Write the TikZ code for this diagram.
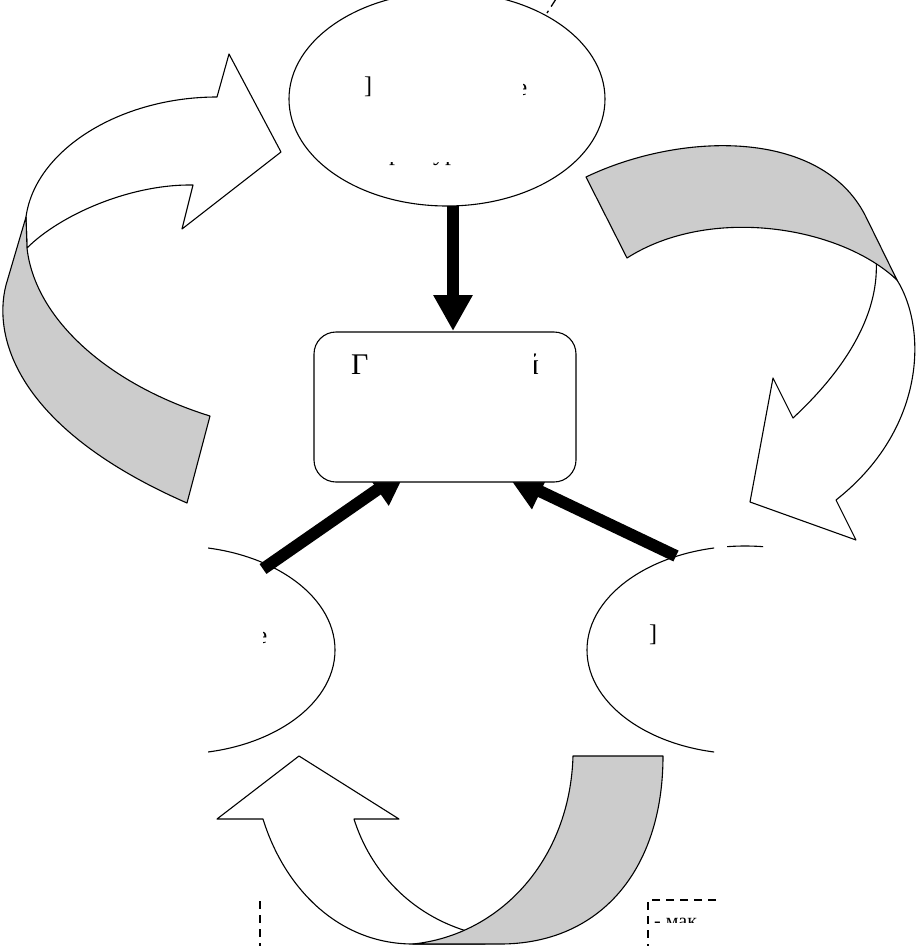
\documentclass[tikz,border=0pt]{standalone}
\usepackage{fontspec}
\setmainfont{Liberation Serif}
\usetikzlibrary{shapes.geometric,arrows.meta}
\definecolor{ribbongray}{RGB}{204,204,204}
\begin{document}
\begin{tikzpicture}[x=1pt,y=-1pt,
  outl/.style={draw=black,line width=1.1pt,line join=round},
  ribbon/.style={outl,fill=ribbongray},
  face/.style={outl,fill=white},
  bigarrow/.style={line width=12pt,-{Triangle[width=37pt,length=36pt]}},
  oval/.style={ellipse,draw=black,line width=1.1pt,minimum width=316pt,minimum height=208pt,inner sep=0pt},
  frag/.style={inner sep=0pt,font=\fontsize{24}{26}\selectfont},
  bigfrag/.style={inner sep=0pt,font=\fontsize{30}{32}\selectfont},
  smallfrag/.style={inner sep=0pt,font=\fontsize{20}{22}\selectfont},
  dashedline/.style={line width=1.8pt,dash pattern=on 8pt off 6pt}]
\useasboundingbox (0,0) rectangle (919,946);
\clip (0,0) rectangle (919,946);

% ---- curved block arrows ----
% left
\path[face] (193,185) -- (182,229) -- (281,152) -- (229,54) -- (217,97)
  .. controls (120,97) and (35,150) .. (26,217) -- (27,248)
  .. controls (60,215) and (130,184) .. cycle;
\path[ribbon] (26,217) -- (27,248) .. controls (35,320) and (110,385) .. (210,416)
  -- (187,503) .. controls (20,430) and (-8,340) .. (6,285) -- cycle;
% right
\path[face] (897,280) .. controls (928,330) and (925,430) .. (836,500)
  -- (856,540) -- (750,502) -- (773,378) -- (793,418)
  .. controls (850,365) and (880,310) .. (876,258) -- cycle;
\path[ribbon] (586,177) .. controls (680,132) and (820,128) .. (865,215) -- (897,280)
  .. controls (840,226) and (710,205) .. (627,258) -- cycle;
% bottom
\path[face] (263,819) .. controls (285,890) and (340,944) .. (413,944) -- (485,944) -- (470,932)
  .. controls (410,915) and (370,870) .. (354,819) -- (399,819) -- (299,756) -- (217,819) -- cycle;
\path[ribbon] (573,756) -- (663,756) .. controls (663,870) and (600,944) .. (500,944) -- (413,944)
  .. controls (500,935) and (570,860) .. cycle;

% ---- ellipses ----
\node[oval,minimum height=214pt] (top) at (447,99) {};
\begin{scope}
  \clip (208,0) rectangle (919,946);
  \node[oval] (left) at (177,650) {};
\end{scope}
\begin{scope}
  \clip (0,0) rectangle (714,946) (727,538) rectangle (763,556);
  \node[oval] (right) at (745,650) {};
\end{scope}

% ---- thick arrows ----
\coordinate (a1s) at (453,206); \coordinate (a1e) at (453,331);
\coordinate (a2s) at (263,569); \coordinate (a2e) at (407,469);
\coordinate (a3s) at (676,556); \coordinate (a3e) at (508,476);
\draw[bigarrow] (a1s) -- (a1e);
\draw[bigarrow] (a2s) -- (a2e);
\draw[bigarrow] (a3s) -- (a3e);

% ---- central box ----
\node[draw=black,line width=1.1pt,fill=white,rounded corners=22pt,minimum width=262pt,minimum height=150pt] (box) at (445,407) {};

% ---- text fragments ----
\node[frag,anchor=base] (t1) at (368,93) {]};
\begin{scope}
  \clip (523,70) rectangle (540,100);
  \node[frag,anchor=base] (t2) at (522,95) {е};
\end{scope}
\begin{scope}
  \clip (380,162) rectangle (470,175);
  \node[frag,anchor=base] (t3) at (395,160) {р};
  \node[frag,anchor=base] (t4) at (445,160) {ур};
\end{scope}
\node[bigfrag,anchor=base west] (t5) at (351,374) {Г};
\begin{scope}
  \clip (534,345) rectangle (550,380);
  \node[bigfrag,anchor=base] (t6) at (531,374) {й};
\end{scope}
\begin{scope}
  \clip (263,620) rectangle (280,650);
  \node[frag,anchor=base] (t7) at (262,643) {е};
\end{scope}
\node[frag,anchor=base] (t8) at (653,641) {]};
\begin{scope}
  \clip (650,900) rectangle (716,922);
  \node[smallfrag,anchor=base west] (t9) at (654,927) {- мак};
\end{scope}

% ---- dashed fragments ----
\coordinate (d1a) at (260,901); \coordinate (d1b) at (260,946);
\draw[dashedline] (d1a) -- (d1b);
\coordinate (d2a) at (716,900); \coordinate (d2b) at (648,900); \coordinate (d2c) at (648,946);
\draw[dashedline] (d2a) -- (d2b) -- (d2c);
\coordinate (d3a) at (556,-1); \coordinate (d3b) at (547,13);
\draw[line width=1.3pt,dash pattern=on 9pt off 5pt] (d3a) -- (d3b);
\end{tikzpicture}
\end{document}
